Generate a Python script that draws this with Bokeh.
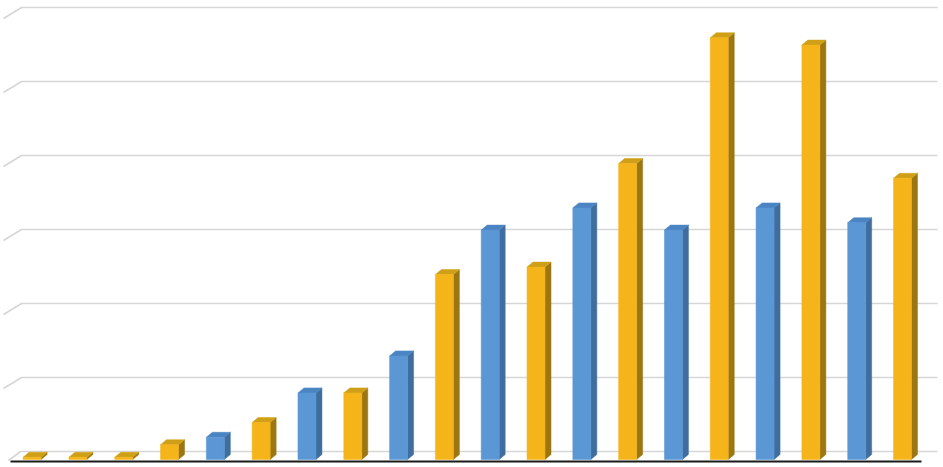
from bokeh.plotting import figure
from bokeh.embed import file_html
from bokeh.resources import INLINE

# ---- data ----
categories = [str(i) for i in range(1, 21)]
values = [0.03, 0.03, 0.03, 0.2, 0.3, 0.5, 0.9, 0.9, 1.4, 2.5,
          3.1, 2.6, 3.4, 4.0, 3.1, 5.7, 3.4, 5.6, 3.2, 3.8]
series = ["B", "B", "B", "B", "A", "B", "A", "B", "A", "B",
          "A", "B", "A", "B", "A", "B", "A", "B", "A", "B"]
grid_values = [0, 1, 2, 3, 4, 5, 6]

# ---- styling ----
front = {"A": "#5B97D5", "B": "#F4B41A"}
side = {"A": "#3F6E9E", "B": "#9C7612"}
top = {"A": "#4B84C2", "B": "#CFA017"}

W, H = 943, 467
PX_X = 45.81   # px per category
PX_Y = 74.0    # px per value unit
x0_page, y0_page = 31.6, 459.0  # px of category 0 center / value 0 front

def ix(px):
    return (px - x0_page) / PX_X

def iy(py):
    return (y0_page - py) / PX_Y

p = figure(width=W, height=H, output_backend="svg", toolbar_location=None,
           x_range=(ix(0), ix(W)), y_range=(iy(H), iy(0)),
           min_border=0, outline_line_color=None)
p.axis.visible = False
p.grid.visible = False
p.background_fill_color = "white"
p.border_fill_color = "white"

half = 9 / PX_X
ddx = 6 / PX_X
ddy = 5 / PX_Y

# back wall gridlines
wall_dy = 8 / PX_Y
for g in grid_values:
    yb = g + wall_dy
    if g == 0:
        xs = [ix(8), ix(20), ix(937)]
        ys = [yb - 9 / PX_Y, yb, yb]
    else:
        xs = [ix(3), ix(21), ix(937)]
        ys = [yb - 11 / PX_Y, yb, yb]
    p.line(xs, ys, line_color="#D6D6D6", line_width=1.6)

# bars
for i, (v, s) in enumerate(zip(values, series)):
    xl, xr = i - half, i + half
    p.patch([xr, xr, xr + ddx, xr + ddx], [0, v, v + ddy, ddy],
            fill_color=side[s], line_color=side[s], line_width=0.5)
    p.patch([xl, xr, xr + ddx, xl + ddx], [v, v, v + ddy, v + ddy],
            fill_color=top[s], line_color=top[s], line_width=0.5)
    p.quad(left=xl, right=xr, bottom=0, top=v,
           fill_color=front[s], line_color=front[s], line_width=0.5)

# front floor edge
p.line([ix(10), ix(921)], [iy(461), iy(461)], line_color="#1A1A1A", line_width=2)

open("out.html", "w").write(file_html(p, INLINE))
